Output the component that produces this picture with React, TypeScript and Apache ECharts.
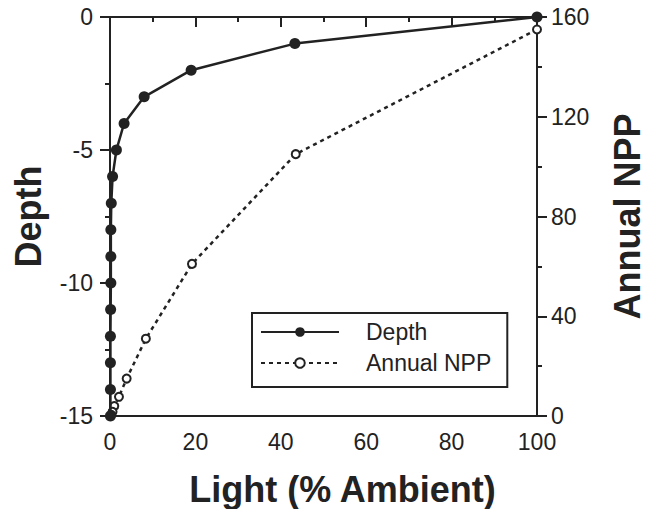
import React, { useEffect, useRef } from "react";
import * as echarts from "echarts";

const depthLight = [100, 43.3, 19, 8, 3.3, 1.5, 0.6, 0.3, 0.2, 0.2, 0.2, 0.15, 0.1, 0.1, 0.1, 0.1];
const depthValues = [0, -1, -2, -3, -4, -5, -6, -7, -8, -9, -10, -11, -12, -13, -14, -15];
const nppLight = [100, 43.5, 19.2, 8.4, 3.9, 2.1, 1.0, 0.6, 0.3];
const nppValues = [155, 105, 61, 31, 15, 7.7, 4, 1.7, 0.5];

const INK = "#222";
const FONT = "Liberation Sans";

export default function App() {
  const ref = useRef<HTMLDivElement>(null);
  useEffect(() => {
    if (!ref.current) return;
    const chart = echarts.init(ref.current, null, { renderer: "svg" });
    const axisCommon = {
      axisLine: { show: true, lineStyle: { color: INK, width: 2 } },
      axisTick: { show: true, inside: false, length: 10, lineStyle: { color: INK, width: 2 } },
      minorTick: { show: true, splitNumber: 2, length: 5, lineStyle: { color: INK, width: 2 } },
      splitLine: { show: false },
      axisLabel: { color: INK, fontSize: 23, fontFamily: FONT },
      nameTextStyle: { color: INK, fontSize: 36, fontWeight: "bold", fontFamily: FONT },
    };
    chart.setOption({
      animation: false,
      backgroundColor: "#fff",
      grid: {
        left: 110,
        right: 116,
        top: 17,
        bottom: 93,
        show: true,
        borderColor: INK,
        borderWidth: 2,
        containLabel: false,
        outerBoundsMode: "none",
      },
      legend: {
        left: 252,
        top: 313,
        orient: "vertical",
        borderColor: INK,
        borderWidth: 2,
        borderRadius: 0,
        padding: [7, 16, 12, 8],
        itemGap: 7,
        itemWidth: 78,
        itemHeight: 12,
        textStyle: { color: INK, fontSize: 23, fontFamily: FONT, padding: [0, 0, 0, 22], lineHeight: 24 },
        data: ["Depth", "Annual NPP"],
      },
      xAxis: {
        type: "value",
        min: 0,
        max: 100,
        interval: 20,
        ...axisCommon,
        axisLabel: { ...axisCommon.axisLabel, margin: 14 },
        name: "Light (% Ambient)",
        nameLocation: "middle",
        nameGap: 55,
        nameTextStyle: { ...axisCommon.nameTextStyle, padding: [0, 0, 0, 38] },
      },
      yAxis: [
        {
          type: "value",
          min: -15,
          max: 0,
          interval: 5,
          position: "left",
          ...axisCommon,
          axisLabel: { ...axisCommon.axisLabel, margin: 17 },
          name: "Depth",
          nameLocation: "middle",
          nameGap: 64,
        },
        {
          type: "value",
          min: 0,
          max: 160,
          interval: 40,
          position: "right",
          ...axisCommon,
          axisLabel: { ...axisCommon.axisLabel, margin: 14 },
          name: "Annual NPP",
          nameLocation: "middle",
          nameGap: 72,
        },
      ],
      series: [
        {
          name: "Annual NPP",
          type: "line",
          yAxisIndex: 1,
          clip: false,
          data: nppLight.map((x, i) => [x, nppValues[i]]),
          symbol: "circle",
          symbolSize: 8,
          showAllSymbol: true,
          lineStyle: { color: INK, width: 2.5, type: [4, 4] },
          itemStyle: { color: "#fff", borderColor: INK, borderWidth: 2 },
          z: 2,
        },
        {
          name: "Depth",
          type: "line",
          yAxisIndex: 0,
          clip: false,
          data: depthLight.map((x, i) => [x, depthValues[i]]),
          symbol: "circle",
          symbolSize: 11,
          showAllSymbol: true,
          lineStyle: { color: INK, width: 2.5 },
          itemStyle: { color: INK, borderColor: INK, borderWidth: 0 },
          z: 3,
        },
      ],
    });
    return () => chart.dispose();
  }, []);
  return (
    <div
      ref={ref}
      style={{ position: "fixed", left: 0, top: 0, width: 653, height: 509, background: "#fff" }}
    />
  );
}
